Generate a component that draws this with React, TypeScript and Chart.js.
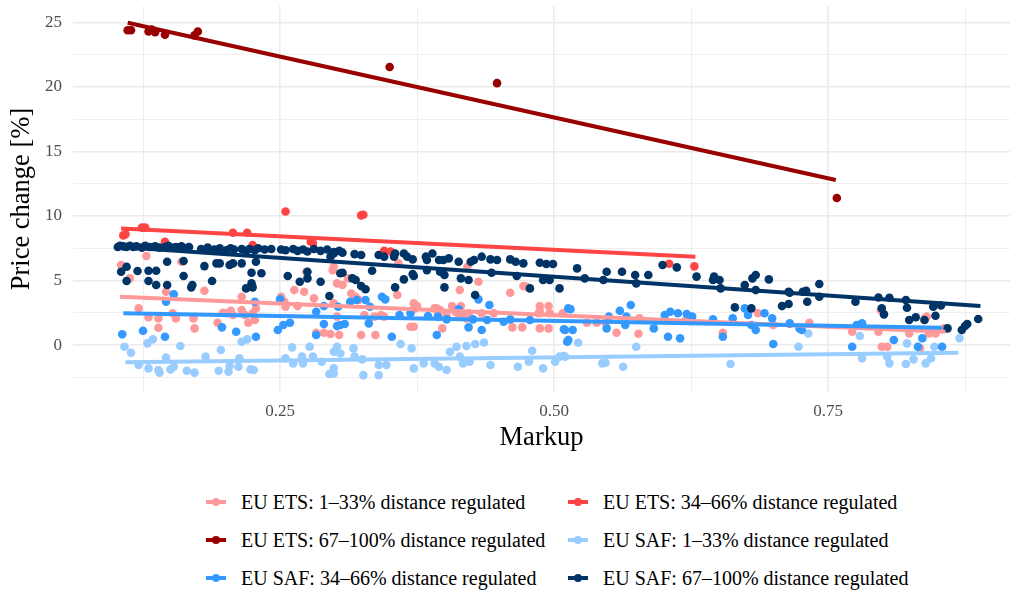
import React, { useEffect, useRef } from 'react';
import { Chart, registerables } from 'chart.js';

Chart.register(...registerables);

const FONT = '"Liberation Serif", "Times New Roman", Times, serif';

// ---- series names and colours ----
const seriesNames = [
  'EU ETS: 1–33% distance regulated',
  'EU ETS: 34–66% distance regulated',
  'EU ETS: 67–100% distance regulated',
  'EU SAF: 1–33% distance regulated',
  'EU SAF: 34–66% distance regulated',
  'EU SAF: 67–100% distance regulated',
];
const seriesColors = ['#FF9999', '#FF4444', '#990000', '#99CCFF', '#3399FF', '#003366'];

// ---- points: [markup, price change %] ----
const etsLow: number[][] = [
  [0.105, 6.2], [0.113, 5.17], [0.121, 2.84], [0.128, 6.9], [0.13, 2.15], [0.139, 2.07], [0.139, 1.34],
  [0.146, 4.13], [0.152, 2.46], [0.155, 2.07], [0.16, 6.46], [0.171, 2.07], [0.172, 1.29], [0.181, 4.21],
  [0.193, 1.73], [0.198, 2.5], [0.202, 2.46], [0.205, 2.66], [0.207, 2.33], [0.215, 3.74], [0.215, 2.71],
  [0.218, 2.33], [0.221, 1.73], [0.225, 2.46], [0.227, 1.94], [0.228, 2.84], [0.251, 3.74], [0.254, 3.36],
  [0.255, 2.97], [0.263, 4.26], [0.266, 3.02], [0.272, 4.13], [0.274, 5.68], [0.281, 3.62], [0.283, 0.95],
  [0.29, 0.95], [0.296, 0.85], [0.298, 5.81], [0.299, 6.07], [0.299, 3.23], [0.302, 2.2], [0.302, 4.78],
  [0.304, 0.78], [0.307, 4.65], [0.312, 5.17], [0.315, 4.0], [0.319, 3.74], [0.322, 3.49], [0.324, 0.78],
  [0.327, 2.33], [0.336, 2.2], [0.337, 0.78], [0.342, 2.33], [0.345, 2.2], [0.357, 3.88], [0.358, 6.33],
  [0.369, 1.42], [0.372, 1.42], [0.372, 3.23], [0.373, 2.84], [0.375, 3.02], [0.391, 2.84], [0.393, 2.84],
  [0.394, 2.58], [0.396, 2.71], [0.398, 1.29], [0.402, 2.33], [0.407, 3.02], [0.41, 2.58], [0.412, 2.46],
  [0.414, 4.26], [0.415, 3.02], [0.416, 2.4], [0.42, 2.07], [0.421, 6.07], [0.422, 2.46], [0.431, 4.91],
  [0.434, 2.46], [0.445, 2.46], [0.46, 4.05], [0.462, 1.37], [0.471, 1.37], [0.472, 4.57], [0.475, 4.52],
  [0.486, 2.46], [0.487, 3.02], [0.487, 1.29], [0.487, 2.66], [0.495, 1.29], [0.495, 3.02], [0.496, 2.46],
  [0.508, 2.46], [0.53, 1.73], [0.539, 1.73], [0.547, 1.73], [0.557, 0.95], [0.577, 0.88], [0.578, 2.07],
  [0.62, 1.9], [0.654, 0.95], [0.686, 2.46], [0.7, 1.55], [0.715, 1.63], [0.733, 1.73], [0.772, 1.03],
  [0.796, 1.03], [0.798, 2.71], [0.799, -0.13], [0.804, -0.13], [0.824, 0.9], [0.834, -0.26], [0.838, 2.07],
  [0.84, 2.2], [0.842, 0.9], [0.848, 0.9], [0.856, 1.29],
];

const etsMid: number[][] = [
  [0.107, 8.5], [0.109, 8.6], [0.124, 9.1], [0.127, 9.1], [0.145, 8.0], [0.207, 8.7], [0.22, 8.7],
  [0.225, 7.75], [0.255, 10.35], [0.278, 8.0], [0.28, 7.9], [0.324, 10.05], [0.326, 10.1], [0.345, 7.3],
  [0.351, 7.25], [0.605, 6.3], [0.628, 6.1],
];

const etsHigh: number[][] = [
  [0.111, 24.4], [0.114, 24.4], [0.13, 24.3], [0.133, 24.45], [0.136, 24.25], [0.145, 24.05],
  [0.172, 24.0], [0.175, 24.3], [0.35, 21.55], [0.448, 20.3], [0.758, 11.4],
];

const safLow: number[][] = [
  [0.108, -0.13], [0.114, -0.6], [0.121, -1.55], [0.13, -1.81], [0.129, 0.13], [0.134, 0.44], [0.139, -1.94],
  [0.14, -2.14], [0.146, -0.96], [0.15, -1.89], [0.153, -1.68], [0.159, -0.08], [0.165, -1.99], [0.172, -2.14],
  [0.182, -0.9], [0.194, -1.99], [0.196, -0.39], [0.203, -2.07], [0.204, -1.63], [0.212, -1.68], [0.215, 0.26],
  [0.22, 0.44], [0.213, -1.03], [0.223, -1.89], [0.226, -1.94], [0.255, -1.03], [0.261, -0.18], [0.262, -1.42],
  [0.27, -0.9], [0.271, -1.42], [0.277, -0.13], [0.28, -0.9], [0.288, -1.29], [0.295, -2.25], [0.299, -0.52],
  [0.302, -0.13], [0.299, -1.81], [0.299, -2.2], [0.305, -0.65], [0.317, -0.26], [0.318, -0.9], [0.325, -1.11],
  [0.326, -2.33], [0.34, -1.55], [0.34, -2.33], [0.347, -1.55], [0.36, 0.08], [0.37, -0.26], [0.372, -1.81],
  [0.381, -1.42], [0.391, -1.42], [0.395, -1.68], [0.402, -1.94], [0.405, -0.52], [0.411, -0.13], [0.414, -0.9],
  [0.417, -1.42], [0.42, -0.08], [0.423, -1.29], [0.428, 0.08], [0.436, 0.2], [0.442, -1.55], [0.467, -1.68],
  [0.477, -1.29], [0.48, -0.44], [0.49, -1.81], [0.501, -1.29], [0.505, -0.9], [0.51, -0.9], [0.509, -0.85],
  [0.522, 0.18], [0.544, -1.42], [0.547, -1.37], [0.563, -1.68], [0.575, -0.13], [0.661, -1.47], [0.723, -0.13],
  [0.732, 0.9], [0.779, 0.7], [0.781, -1.03], [0.804, -0.9], [0.806, -1.42], [0.821, -1.47], [0.822, 0.13],
  [0.828, -1.11], [0.839, -1.42], [0.844, -1.03], [0.847, -0.13], [0.87, 0.52],
];

const safMid: number[][] = [
  [0.106, 0.83], [0.125, 1.11], [0.145, 0.64], [0.146, 3.36], [0.153, 3.93], [0.197, 1.37], [0.21, 1.03],
  [0.228, 0.64], [0.227, 3.36], [0.248, 1.16], [0.25, 3.54], [0.253, 1.55], [0.259, 1.73], [0.283, 2.58],
  [0.283, 0.78], [0.29, 1.63], [0.29, 3.02], [0.302, 1.47], [0.303, 2.97], [0.305, 1.55], [0.309, 1.63],
  [0.314, 3.36], [0.32, 3.49], [0.328, 3.49], [0.331, 1.68], [0.332, 2.97], [0.343, 3.74], [0.346, 3.54],
  [0.352, 0.64], [0.359, 2.33], [0.369, 2.46], [0.385, 2.25], [0.394, 2.2], [0.393, 0.78], [0.402, 1.99],
  [0.413, 2.77], [0.422, 1.37], [0.426, 1.99], [0.431, 3.54], [0.434, 1.16], [0.439, 1.94], [0.441, 3.1],
  [0.454, 1.81], [0.46, 1.99], [0.478, 1.94], [0.51, 1.16], [0.512, 0.26], [0.513, 2.84], [0.509, 1.22],
  [0.513, 0.39], [0.515, 2.77], [0.517, 1.16], [0.548, 1.29], [0.55, 2.2], [0.56, 2.66], [0.565, 1.55],
  [0.57, 3.1], [0.566, 2.2], [0.591, 1.29], [0.601, 2.33], [0.604, 0.64], [0.606, 2.58], [0.613, 2.46],
  [0.615, 0.52], [0.621, 2.4], [0.626, 2.2], [0.645, 1.99], [0.654, 0.64], [0.663, 2.07], [0.674, 2.84],
  [0.677, 2.33], [0.68, 1.55], [0.684, 1.16], [0.692, 2.46], [0.699, 2.07], [0.7, 0.08], [0.715, 1.68],
  [0.724, 1.29], [0.726, 1.16], [0.772, -0.13], [0.776, 1.55], [0.781, 1.68], [0.81, 0.39], [0.832, -0.13],
  [0.836, 0.52], [0.854, -0.13],
];

const safHigh: number[][] = [
  [0.102, 7.6], [0.104, 7.7], [0.107, 7.65], [0.11, 7.6], [0.113, 7.7], [0.116, 7.6], [0.119, 7.65],
  [0.124, 7.55], [0.127, 7.7], [0.131, 7.6], [0.136, 7.65], [0.14, 7.55], [0.145, 7.6], [0.148, 7.7],
  [0.151, 7.55], [0.155, 7.6], [0.16, 7.65], [0.164, 7.5], [0.167, 7.6], [0.178, 7.45], [0.184, 7.55],
  [0.19, 7.4], [0.195, 7.5], [0.201, 7.35], [0.205, 7.5], [0.208, 7.4], [0.215, 7.45], [0.219, 7.3],
  [0.222, 7.45], [0.227, 7.35], [0.23, 7.5], [0.236, 7.4], [0.242, 7.45], [0.251, 7.4], [0.255, 7.35],
  [0.262, 7.45], [0.266, 7.3], [0.271, 7.4], [0.275, 7.25], [0.281, 7.45], [0.287, 7.3], [0.293, 7.4],
  [0.299, 7.2], [0.304, 7.3],
  [0.11, 6.07], [0.105, 5.68], [0.11, 4.96], [0.12, 5.74], [0.13, 5.76], [0.13, 4.96], [0.137, 5.76],
  [0.137, 4.65], [0.147, 6.46], [0.147, 4.65], [0.162, 6.51], [0.162, 5.35], [0.169, 4.47], [0.17, 4.65],
  [0.181, 6.12], [0.188, 4.96], [0.192, 6.33], [0.195, 6.33], [0.204, 6.2], [0.207, 6.33], [0.215, 6.33],
  [0.224, 5.6], [0.224, 4.78], [0.219, 4.39], [0.225, 4.47], [0.233, 5.56], [0.228, 6.46], [0.257, 5.35],
  [0.268, 4.91], [0.275, 5.68], [0.275, 5.17], [0.287, 4.91], [0.295, 3.8], [0.296, 6.85], [0.305, 5.56],
  [0.299, 7.1], [0.307, 7.16], [0.318, 7.05], [0.324, 6.98], [0.34, 6.98], [0.345, 6.85], [0.354, 6.85],
  [0.355, 7.1], [0.363, 7.1], [0.366, 6.85], [0.371, 6.64], [0.383, 6.85], [0.384, 6.59], [0.389, 7.1],
  [0.395, 6.59], [0.399, 6.59], [0.404, 6.72], [0.413, 6.46], [0.424, 6.46], [0.427, 6.59], [0.434, 6.85],
  [0.442, 6.64], [0.448, 6.59], [0.46, 6.64], [0.465, 6.46], [0.472, 6.33], [0.487, 6.38], [0.493, 6.28],
  [0.499, 6.28],
  [0.307, 5.6], [0.316, 5.17], [0.319, 5.04], [0.324, 4.57], [0.328, 4.32], [0.334, 5.76], [0.355, 4.47],
  [0.363, 5.09], [0.371, 5.5], [0.372, 5.35], [0.384, 5.81], [0.396, 5.68], [0.4, 5.43], [0.4, 4.47],
  [0.415, 5.17], [0.422, 5.04], [0.428, 3.88], [0.443, 5.6], [0.466, 5.35], [0.478, 4.39], [0.49, 5.04],
  [0.496, 5.04], [0.505, 4.39],
  [0.521, 5.94], [0.528, 5.17], [0.545, 5.04], [0.548, 5.68], [0.562, 5.68], [0.574, 5.43], [0.575, 4.78],
  [0.586, 5.43], [0.599, 6.2], [0.612, 6.02], [0.63, 5.3], [0.645, 5.04], [0.646, 5.3], [0.651, 5.04],
  [0.652, 4.39], [0.665, 2.92], [0.674, 4.65], [0.68, 2.84], [0.681, 5.17], [0.684, 5.43], [0.684, 4.26],
  [0.696, 5.09], [0.708, 3.02], [0.714, 3.18], [0.714, 4.13],
  [0.715, 4.05], [0.727, 4.13], [0.73, 4.21], [0.731, 3.36], [0.742, 4.73], [0.742, 3.74], [0.775, 3.36],
  [0.796, 3.69], [0.799, 2.84], [0.801, 2.38], [0.806, 3.67], [0.821, 3.49], [0.822, 2.89], [0.824, 1.94],
  [0.83, 2.15], [0.838, 1.94], [0.846, 2.97], [0.848, 2.27], [0.853, 3.07], [0.859, 1.29], [0.872, 1.16],
  [0.875, 1.47], [0.877, 1.63], [0.887, 2.02],
];

const seriesPoints = [etsLow, etsMid, etsHigh, safLow, safMid, safHigh];

// ---- linear fits: start/end markup and price change ----
const fitStartX = [0.104, 0.105, 0.111, 0.109, 0.107, 0.102];
const fitStartY = [3.74, 9.04, 24.98, -1.34, 2.46, 7.62];
const fitEndX = [0.857, 0.629, 0.757, 0.869, 0.854, 0.889];
const fitEndY = [1.03, 6.85, 12.79, -0.6, 1.34, 3.02];

// ---- axes ----
const xTickLabels: Record<string, string> = { '0.25': '0.25', '0.5': '0.50', '0.75': '0.75' };
const yTickLabels = [0, 5, 10, 15, 20, 25];
const xMin = 0.0611, xMax = 0.916;
const yMin = -3.64, yMax = 26.28;

export default function App() {
  const ref = useRef<HTMLCanvasElement>(null);

  useEffect(() => {
    const pointSets = seriesPoints.map((pts, i) => ({
      type: 'scatter' as const,
      label: seriesNames[i],
      data: pts.map(([x, y]) => ({ x, y })),
      backgroundColor: seriesColors[i],
      borderWidth: 0,
      pointRadius: 4.3,
      pointHoverRadius: 4.3,
      order: 20 - i,
    }));
    const lineSets = seriesNames.map((name, i) => ({
      type: 'scatter' as const,
      label: name + ' fit',
      data: [
        { x: fitStartX[i], y: fitStartY[i] },
        { x: fitEndX[i], y: fitEndY[i] },
      ],
      showLine: true,
      borderColor: seriesColors[i],
      backgroundColor: seriesColors[i],
      borderWidth: 4,
      borderCapStyle: 'butt' as const,
      pointRadius: 0,
      order: 10 - i,
    }));

    const gridW = (major: boolean) => (major ? 1.6 : 0.8);

    const chart = new Chart(ref.current!, {
      type: 'scatter',
      data: { datasets: [...pointSets, ...lineSets] as any },
      options: {
        responsive: false,
        animation: false,
        layout: { padding: { left: 0, right: 7, top: 6, bottom: 0 } },
        plugins: { legend: { display: false }, tooltip: { enabled: false } },
        scales: {
          x: {
            type: 'linear',
            min: xMin,
            max: xMax,
            border: { display: false },
            grid: {
              color: '#EBEBEB',
              drawTicks: false,
              lineWidth: (c: any) => gridW(xTickLabels[String(c.tick?.value)] !== undefined),
            },
            ticks: {
              stepSize: 0.125,
              includeBounds: false,
              autoSkip: false,
              maxRotation: 0,
              padding: 9,
              color: '#4D4D4D',
              font: { family: FONT, size: 17 },
              callback: (v: any) => xTickLabels[String(Number(v))] ?? '',
            },
            title: {
              display: true,
              text: 'Markup',
              color: '#000',
              font: { family: FONT, size: 26.5 },
              padding: { top: 0, bottom: 6 },
            },
            afterFit: (s: any) => {
              s.height = 68;
              s.paddingLeft = 0;
              s.paddingRight = 0;
            },
          },
          y: {
            type: 'linear',
            min: yMin,
            max: yMax,
            border: { display: false },
            grid: {
              color: '#EBEBEB',
              drawTicks: false,
              lineWidth: (c: any) => gridW(yTickLabels.includes(c.tick?.value)),
            },
            ticks: {
              stepSize: 2.5,
              includeBounds: false,
              autoSkip: false,
              maxTicksLimit: 30,
              padding: 11,
              color: '#4D4D4D',
              font: { family: FONT, size: 17 },
              callback: (v: any) => (yTickLabels.includes(Number(v)) ? String(v) : ''),
            },
            title: {
              display: true,
              text: 'Price change [%]',
              color: '#000',
              font: { family: FONT, size: 26.5 },
              padding: { top: 6, bottom: 0 },
            },
            afterFit: (s: any) => {
              s.width = 73;
              s.paddingTop = 0;
              s.paddingBottom = 0;
            },
          },
        },
      } as any,
    });
    return () => chart.destroy();
  }, []);

  const legendPos = [
    [216, 502], [578, 502],
    [216, 540], [578, 540],
    [216, 578], [578, 578],
  ];

  return (
    <div style={{ position: 'fixed', left: 0, top: 0, width: 1017, height: 592, background: '#fff' }}>
      <canvas ref={ref} width={1017} height={460} style={{ position: 'absolute', left: 0, top: 0, width: 1017, height: 460 }} />
      {seriesNames.map((name, i) => (
        <div
          key={name}
          style={{
            position: 'absolute',
            left: legendPos[i][0] - 10,
            top: legendPos[i][1] - 10,
            height: 20,
            display: 'flex',
            alignItems: 'center',
          }}
        >
          <div style={{ position: 'relative', width: 20, height: 20, flex: 'none' }}>
            <div style={{ position: 'absolute', left: 0, top: 7.75, width: 20, height: 4.5, background: seriesColors[i] }} />
            <div style={{ position: 'absolute', left: 6, top: 6, width: 8, height: 8, borderRadius: '50%', background: seriesColors[i] }} />
          </div>
          <span style={{ marginLeft: 15, fontFamily: FONT, fontSize: 20, lineHeight: '20px', color: '#000', whiteSpace: 'nowrap' }}>
            {name}
          </span>
        </div>
      ))}
    </div>
  );
}
